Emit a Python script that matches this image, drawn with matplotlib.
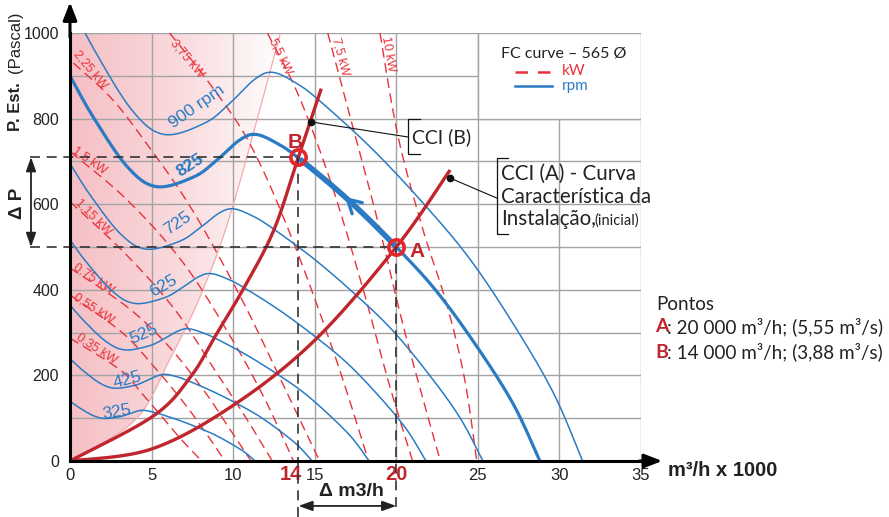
import numpy as np
import matplotlib
matplotlib.use("Agg")
import matplotlib.pyplot as plt
from matplotlib.colors import LinearSegmentedColormap
from matplotlib.patches import Polygon, Rectangle

W, H = 889, 517

BLUE = "#2a7bc4"
RED_DASH = "#e8333a"
DARK_RED = "#c0262d"
MARK_RED = "#e5262b"
GRID = "#a3a3a3"
PINK = "#f5bfc4"
INK = "#222222"

# ---- data ----
RPM = [325, 425, 525, 625, 725, 825, 900]
RPM_LABELS = ["325", "425", "525", "625", "725", "825", "900 rpm"]
BASE_RPM = 825
BASE_Q = [0, 1.4, 3.5, 5.3, 7.6, 9.0, 10.4, 11.4, 12.7, 14.0, 17.0, 20.0, 22.5, 25.0, 27.2, 28.8]
BASE_P = [900, 805, 688, 641, 664, 703, 750, 763, 742, 708, 612, 500, 395, 264, 131, 0]
RPM_LABEL_Q = [2.9, 3.5, 4.5, 5.7, 6.6, 7.4, 7.8]
RPM_LABEL_P = [114, 190, 297, 409, 556, 692, 828]
RPM_LABEL_ROT = [10, 15, 24, 30, 34, 33, 35]

KW_LABELS = ["0,35 kW", "0,55 kW", "0,75 kW", "1,15 kW", "1,5 kW",
             "2,25 kW", "3,75 kW", "5,5 kW", "7,5 kW", "10 kW"]
KW_Q = [
    [0, 3.07, 4.4, 5.8, 6.85, 8.07],
    [0, 3.2, 5.2, 7.0, 8.3, 9.5],
    [0, 3.5, 6.0, 8.2, 9.7, 11.1],
    [0, 3.5, 6.5, 9.0, 10.8, 12.4],
    [0, 3.5, 7.0, 10.0, 12.0, 13.7],
    [0.2, 2.45, 4.3, 7.36, 10.5, 13.1, 15.3],
    [6.1, 8.4, 11.0, 13.5, 16.2, 18.3],
    [12.1, 14.0, 16.0, 17.9, 19.6, 21.0],
    [15.8, 17.2, 18.8, 20.4, 21.6, 22.7],
    [19.0, 20.1, 21.6, 23.1, 24.2, 24.93],
]
KW_P = [
    [287, 213, 158, 96, 49, 0],
    [388, 300, 218, 135, 67, 0],
    [451, 360, 270, 165, 80, 0],
    [606, 480, 350, 205, 100, 0],
    [723, 610, 460, 280, 140, 0],
    [930, 851, 762, 595, 380, 175, 0],
    [1000, 890, 743, 530, 250, 0],
    [1000, 855, 650, 410, 175, 0],
    [1000, 800, 570, 320, 150, 0],
    [1000, 760, 545, 365, 189, 0],
]
KW_LABEL_Q = [1.63, 1.47, 1.47, 1.43, 1.18, 1.23, 7.19, 12.88, 16.6, 19.5]
KW_LABEL_P = [263, 357, 427, 571, 702, 915, 941, 946, 945, 951]
KW_LABEL_ROT = [-33, -33, -33, -45, -35, -50, -50, -64, -75, -80]

CCI_A_Q = [0, 5, 10, 15, 20, 23.3]
CCI_A_P = [0, 28, 130, 282, 500, 680]
CCI_B_Q = [0, 5.1, 7.4, 9.0, 10.7, 12.5, 14.0, 15.4]
CCI_B_P = [0, 105, 197, 298, 407, 540, 710, 870]

SHADE_Q = [0, 4, 6.1, 8.15, 10.0, 12.9]
SHADE_P = [0, 96, 236, 400, 598, 1000]

POINT_A = (20, 500)
POINT_B = (14, 710)

X_TICKS = [0, 5, 10, 15, 20, 25, 30, 35]
X_TICK_LABELS = ["0", "5", "10", "15", "", "25", "30", "35"]
Y_TICKS = [0, 200, 400, 600, 800, 1000]


def cr_spline(xs, ys, n=24):
    P = np.column_stack([xs, ys]).astype(float)
    out = [P[0]]
    for i in range(len(P) - 1):
        p0 = P[max(i - 1, 0)]
        p1 = P[i]
        p2 = P[i + 1]
        p3 = P[min(i + 2, len(P) - 1)]
        t = np.linspace(0, 1, n)[1:, None]
        seg = 0.5 * (2 * p1 + (-p0 + p2) * t + (2 * p0 - 5 * p1 + 4 * p2 - p3) * t ** 2
                     + (-p0 + 3 * p1 - 3 * p2 + p3) * t ** 3)
        out.extend(seg)
    out = np.array(out)
    return out[:, 0], out[:, 1]


def ftxt(x, y, s, **kw):
    fig.text(x / W, 1 - y / H, s, **kw)


plt.rcParams.update({
    "font.family": ["Liberation Sans", "DejaVu Sans"],
    "font.size": 12,
})
CAL = ["Lato", "DejaVu Sans"]

fig = plt.figure(figsize=(W / 100, H / 100), dpi=100)
ax = fig.add_axes([70 / W, 56 / H, 571 / W, 428 / H])
ax.set_xlim(0, 35)
ax.set_ylim(0, 1000)

# pink gradient region
sx, sy = cr_spline(SHADE_Q, SHADE_P)
cmap = LinearSegmentedColormap.from_list("pk", [PINK, "#f9dadd", "#ffffff"])
im = ax.imshow(np.linspace(0, 1, 256)[None, :], cmap=cmap, aspect="auto",
               extent=(0, 13.2, 0, 1000), zorder=0.2)
poly = Polygon(np.column_stack([np.r_[sx, 0], np.r_[sy, 1000]]), closed=True,
               facecolor="none", edgecolor="none", transform=ax.transData)
ax.add_patch(poly)
im.set_clip_path(poly)
ax.plot(sx, sy, color="#f4a9ae", lw=0.9, zorder=1)

# grid
ax.set_axisbelow(True)
ax.set_xticks(X_TICKS, X_TICK_LABELS)
ax.set_yticks(Y_TICKS)
ax.set_yticks(range(100, 1000, 200), minor=True)
ax.grid(True, which="both", color=GRID, lw=1.0)
ax.tick_params(which="both", length=0)
ax.tick_params(axis="x", pad=5, labelsize=12, labelcolor=INK)
ax.tick_params(axis="y", pad=8, labelsize=11.5, labelcolor=INK)
for s in ("top", "right"):
    ax.spines[s].set_visible(False)
for s in ("left", "bottom"):
    ax.spines[s].set_linewidth(2.2)
    ax.spines[s].set_zorder(8)

# legend box
ax.add_patch(Rectangle((25, 800), 10, 200, facecolor="white", edgecolor=GRID,
                       lw=1.0, zorder=0.8))

# kW lines
for q, p, lab, lq, lp, rot in zip(KW_Q, KW_P, KW_LABELS, KW_LABEL_Q, KW_LABEL_P, KW_LABEL_ROT):
    kx, ky = cr_spline(q, p)
    ax.plot(kx, ky, color=RED_DASH, lw=1.0, dashes=(7, 4), zorder=2)
    ax.text(lq, lp, lab, color=RED_DASH, fontsize=9, rotation=rot,
            ha="center", va="center", rotation_mode="anchor", zorder=2.5)

# fan curves (fan laws from the 825 rpm curve)
for n, lab, lq, lp, rot in zip(RPM, RPM_LABELS, RPM_LABEL_Q, RPM_LABEL_P, RPM_LABEL_ROT):
    r = n / BASE_RPM
    q, p = cr_spline(np.array(BASE_Q) * r, np.array(BASE_P) * r ** 2)
    thick = n == BASE_RPM
    ax.plot(q, p, color=BLUE, lw=2.3 if thick else 1.1, zorder=3)
    ax.text(lq, lp, lab, color=BLUE, fontsize=12.5, rotation=rot,
            fontweight="bold" if thick else "normal",
            ha="center", va="center", rotation_mode="anchor", zorder=3.5)
    if thick:
        m = (q >= POINT_B[0]) & (q <= POINT_A[0])
        ax.plot(q[m], p[m], color=BLUE, lw=4.0, zorder=3.2, solid_capstyle="butt")
        qa, pa = 16.85, np.interp(16.85, q, p)
        qb, pb = 17.6, np.interp(17.6, q, p)
        ax.annotate("", xy=(qa, pa), xytext=(qb, pb),
                    arrowprops=dict(arrowstyle="->,head_length=0.8,head_width=0.45",
                                    color=BLUE, lw=2.4, shrinkA=0, shrinkB=0),
                    zorder=3.3)

# system curves
for q, p in ((CCI_A_Q, CCI_A_P), (CCI_B_Q, CCI_B_P)):
    cx, cy = cr_spline(q, p)
    ax.plot(cx, cy, color=DARK_RED, lw=2.4, zorder=4, solid_capstyle="butt")

# guide lines
gl = dict(color="#333333", lw=1.2, dashes=(6, 4), clip_on=False, zorder=5)
ax.plot([-2.45, POINT_B[0]], [POINT_B[1], POINT_B[1]], **gl)
ax.plot([-2.45, POINT_A[0]], [POINT_A[1], POINT_A[1]], **gl)
ax.plot([POINT_B[0], POINT_B[0]], [POINT_B[1], -131], **gl)
ax.plot([POINT_A[0], POINT_A[0]], [POINT_A[1], -119], **gl)

# operating points
for (q, p), lab, off in ((POINT_A, "A", (1.3, -10)), (POINT_B, "B", (-0.2, 35))):
    ax.plot(q, p, "o", ms=11, mfc="none", mec=MARK_RED, mew=2.6, zorder=7)
    ax.text(q + off[0], p + off[1], lab, color=DARK_RED, fontsize=15,
            fontweight="bold", ha="center", va="center", zorder=7)

# CCI annotations
ax.plot([14.8, 20.72], [792, 757], color="#111111", lw=0.8, zorder=6)
ax.plot(14.8, 792, "o", color="#111111", ms=4.5, zorder=6)
ax.plot([21.46, 20.72, 20.72, 21.46], [799, 799, 717, 717], color="#111111", lw=0.9, zorder=6)
ax.plot([23.3, 26.18], [661, 614], color="#111111", lw=0.8, zorder=6, clip_on=False)
ax.plot(23.3, 661, "o", color="#111111", ms=4.5, zorder=6)
ax.plot([26.86, 26.18, 26.18, 26.86], [708, 708, 530, 530], color="#111111", lw=0.9, zorder=6)

ftxt(412, 137, "CCI (B)", family=CAL, fontsize=14, ha="left", va="center", color=INK)
ftxt(501, 174, "CCI (A) - Curva", family=CAL, fontsize=14.8, ha="left", va="center", color=INK)
ftxt(501, 197, "Característica da", family=CAL, fontsize=14.8, ha="left", va="center", color=INK)
ftxt(501, 219, "Instalação,", family=CAL, fontsize=14.8, ha="left", va="center", color=INK)
ftxt(594, 221, "(inicial)", family=CAL, fontsize=10.5, ha="left", va="center", color=INK)

# legend contents
ftxt(564, 53, "FC curve – 565 Ø", family=CAL, fontsize=11.5, ha="center", va="center", color=INK)
ax.plot([27.28, 29.55], [909, 909], color=RED_DASH, lw=1.8, dashes=(5, 4), zorder=2)
ax.plot([27.28, 29.55], [876, 876], color=BLUE, lw=1.8, zorder=2)
ftxt(562, 71, "kW", family=CAL, fontsize=11, ha="left", va="center", color=RED_DASH)
ftxt(562, 86, "rpm", family=CAL, fontsize=11, ha="left", va="center", color=BLUE)

# Pontos
ftxt(656, 305, "Pontos", family=CAL, fontsize=13.5, ha="left", va="center", color=INK)
ftxt(655, 327, "A", family=CAL, fontsize=14, fontweight="bold", ha="left", va="center", color=DARK_RED)
ftxt(667, 327, ": 20 000 m³/h; (5,55 m³/s)", family=CAL, fontsize=13.6, ha="left", va="center", color=INK)
ftxt(655, 352, "B", family=CAL, fontsize=14, fontweight="bold", ha="left", va="center", color=DARK_RED)
ftxt(667, 352, ": 14 000 m³/h; (3,88 m³/s)", family=CAL, fontsize=13.6, ha="left", va="center", color=INK)

# axis arrows
arr = dict(arrowstyle="-|>,head_length=0.9,head_width=0.35", color="black", lw=2.2,
           shrinkA=0, shrinkB=0)
ax.annotate("", xy=(0, 1072), xytext=(0, 990), arrowprops=arr, annotation_clip=False)
ax.annotate("", xy=(36.3, 0), xytext=(34.9, 0), arrowprops=arr, annotation_clip=False)

# delta arrows
darr = dict(arrowstyle="<|-|>,head_length=0.7,head_width=0.25", color=INK, lw=1.3,
            shrinkA=0, shrinkB=0)
ax.annotate("", xy=(-2.39, POINT_B[1]), xytext=(-2.39, POINT_A[1]), arrowprops=darr,
            annotation_clip=False)
ax.annotate("", xy=(POINT_A[0], -105), xytext=(POINT_B[0], -105), arrowprops=darr,
            annotation_clip=False)
ftxt(18, 203, "Δ P", fontsize=13.5, fontweight="bold", rotation=90, ha="center", va="center", color=INK)
ftxt(351, 491, "Δ m3/h", fontsize=14, fontweight="bold", ha="center", va="center", color=INK)

# red tick labels
xt = ax.get_xaxis_transform()
ax.text(14.25, -0.031, "14", transform=xt, color=DARK_RED, fontsize=14.5,
        fontweight="bold", ha="right", va="center")
ax.text(20.0, -0.031, "20", transform=xt, color=DARK_RED, fontsize=14.5,
        fontweight="bold", ha="center", va="center")

# axis titles
ftxt(15, 131, "P. Est.", fontsize=12, fontweight="bold", rotation=90,
     ha="left", va="center", rotation_mode="anchor", color=INK)
ftxt(15, 73, "(Pascal)", fontsize=12, rotation=90,
     ha="left", va="center", rotation_mode="anchor", color=INK)
ftxt(668, 470, "m³/h x 1000", fontsize=14.5, fontweight="bold", ha="left", va="center", color=INK)

fig.savefig("out.png", dpi=100)
